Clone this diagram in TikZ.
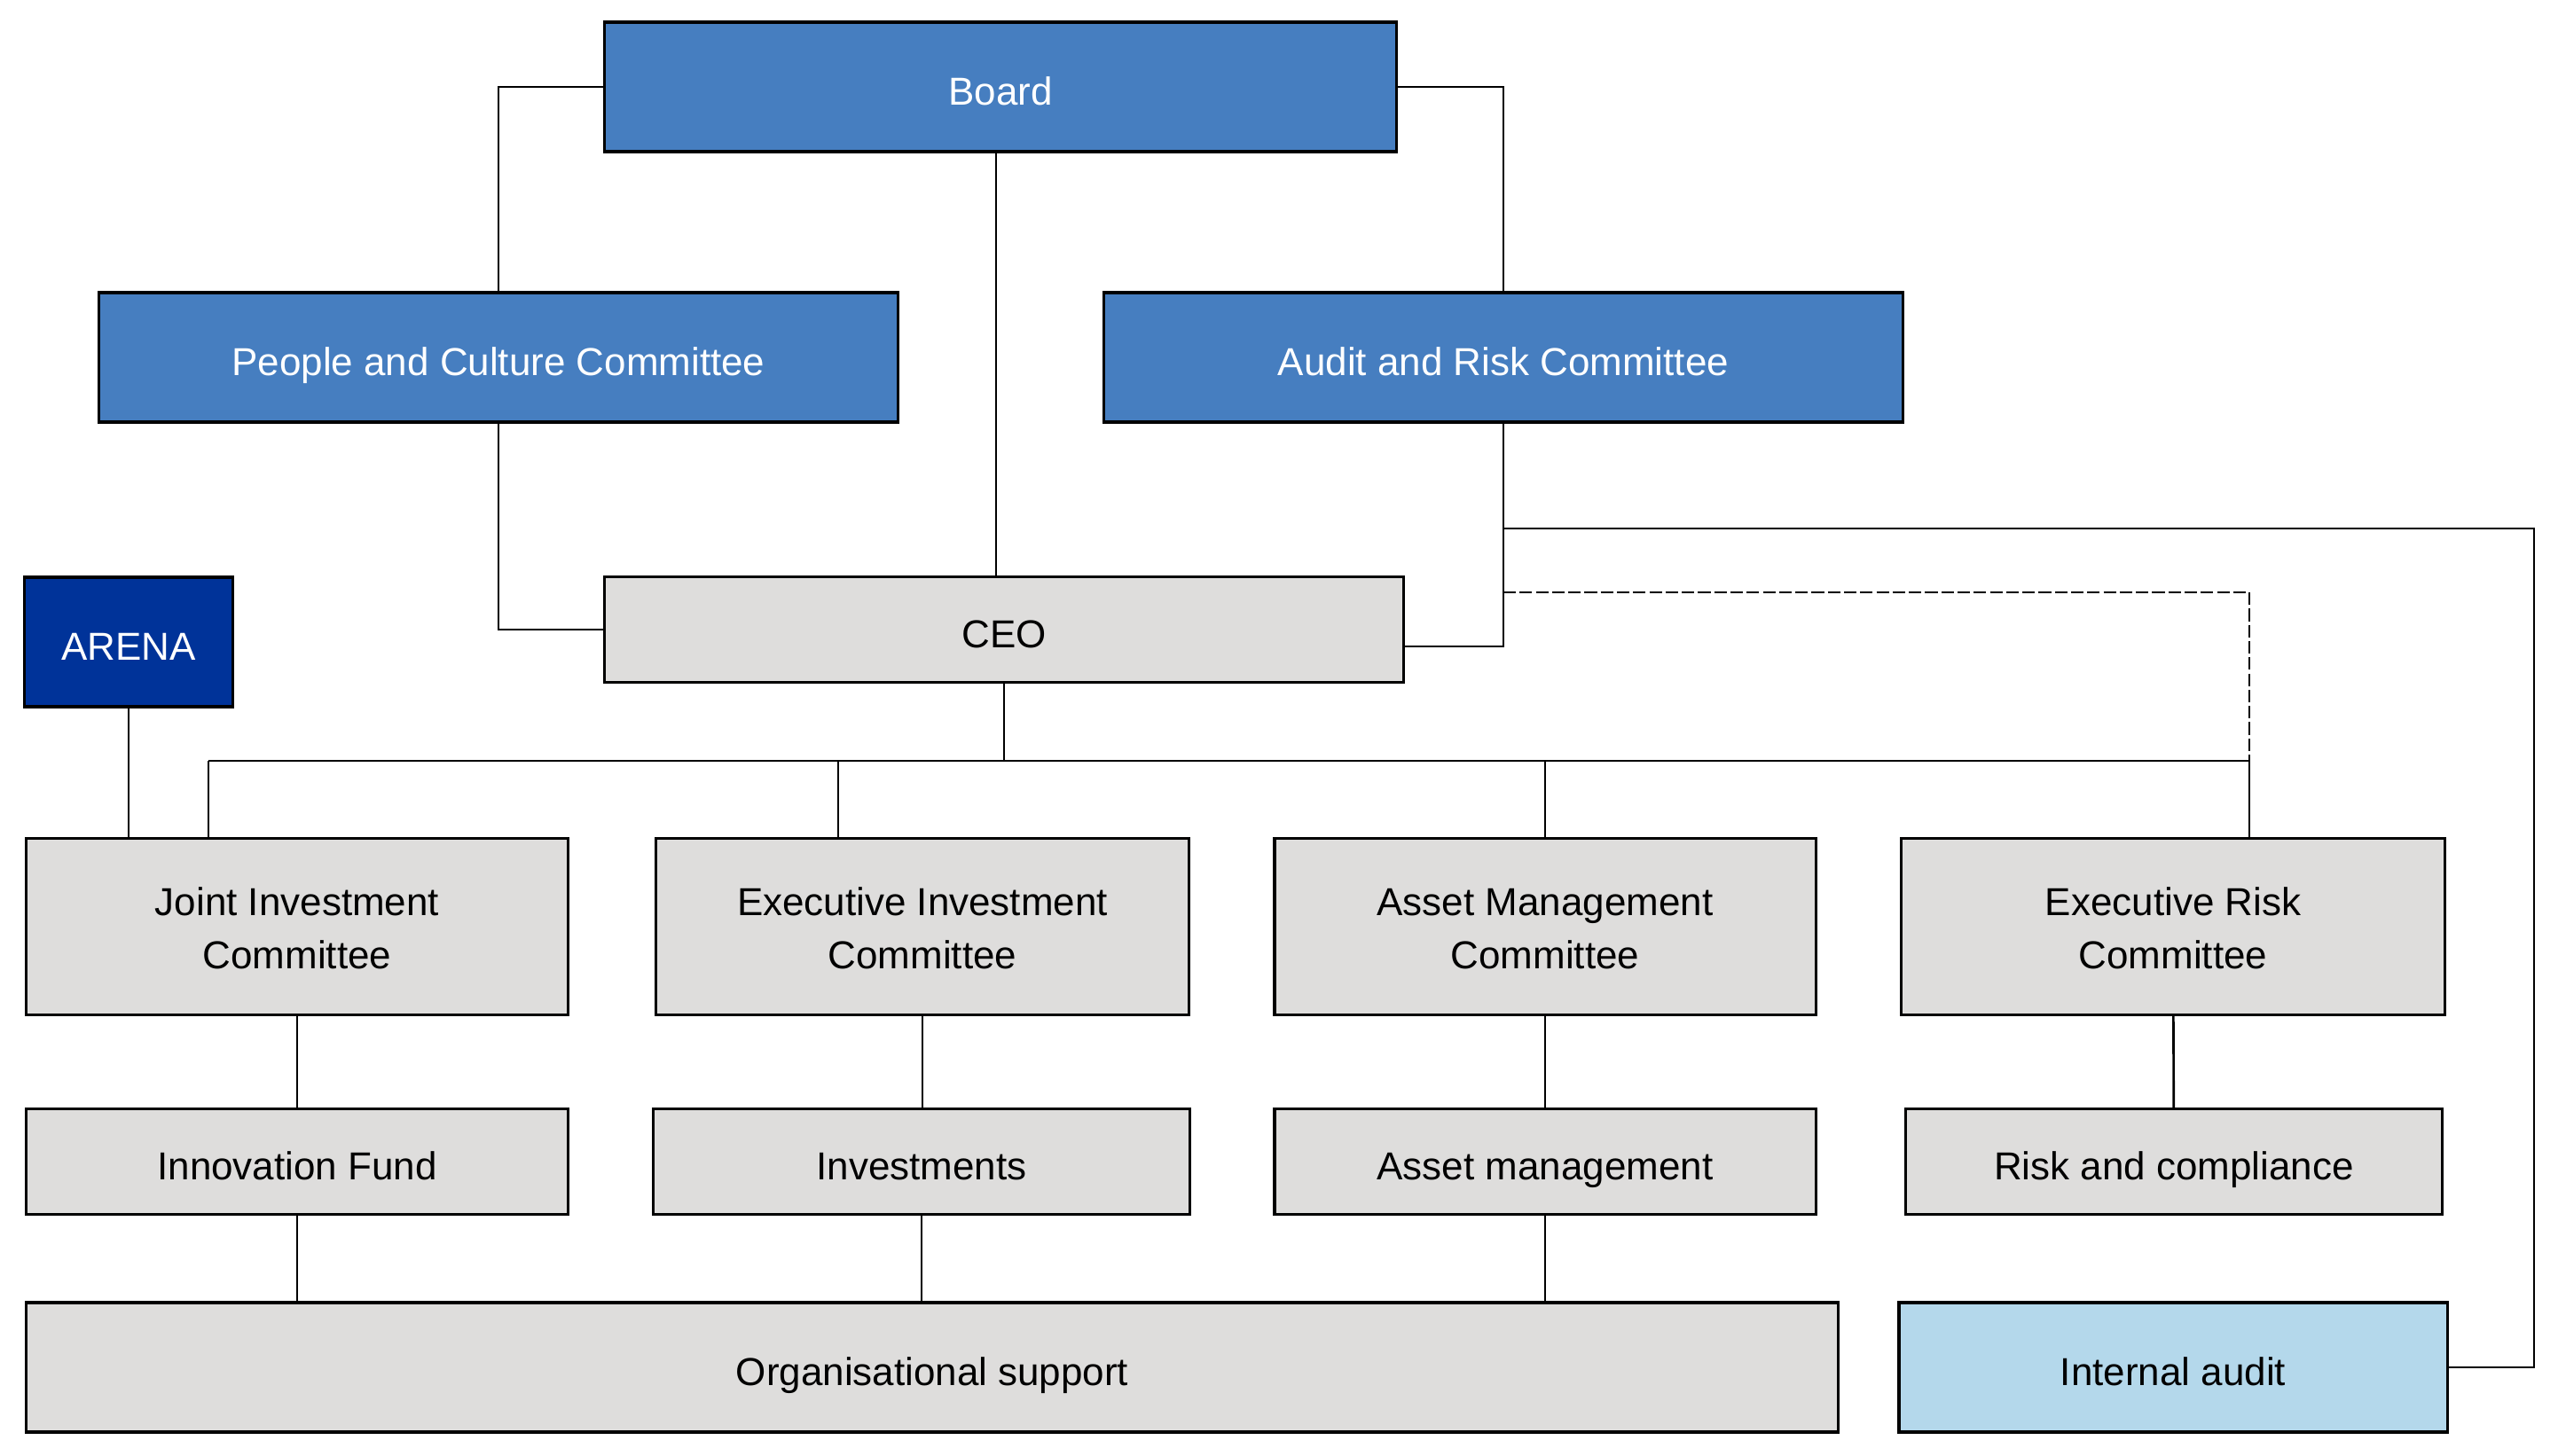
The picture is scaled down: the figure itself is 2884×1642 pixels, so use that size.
\documentclass[tikz,border=0pt]{standalone}
\usepackage{fontspec}
\setmainfont{Liberation Sans}
\usepackage{tikz}
\usetikzlibrary{positioning}

\definecolor{boardblue}{RGB}{70,126,192}
\definecolor{arenablue}{RGB}{0,51,153}
\definecolor{unitgrey}{RGB}{222,221,220}
\definecolor{auditblue}{RGB}{180,216,235}

\begin{document}
\begin{tikzpicture}[
            x = 0.01cm, y = -0.01cm, % one unit = one pixel of the chart
            line width = 0.75pt, % connector style
            every text node part/.style={align=center}
        ]

        \tikzset{
            unit/.style = {draw = black, line width = 0.95pt, fill = unitgrey, inner sep = 0pt,
                font = \fontsize{12.5}{17}\selectfont},
            onerow/.style = {text height = 11.8pt, text depth = 0pt},
            tworow/.style = {unit, minimum height = 1.99cm, text height = 30pt, text depth = 3pt},
            board/.style = {unit, onerow, fill = boardblue, text = white},
            arena/.style = {unit, onerow, fill = arenablue, text = white},
            audit/.style = {unit, onerow, fill = auditblue}
        }

        \useasboundingbox (0,0) rectangle (2884,1642);

        \node[board, minimum width=8.92cm, minimum height=1.46cm] (Board) at (1128,98) {Board};
        \node[board, minimum width=9.01cm, minimum height=1.46cm] (PCC) at (562,403) {People and Culture Committee};
        \node[board, minimum width=9.00cm, minimum height=1.46cm] (ARC) at (1695,403) {Audit and Risk Committee};
        \node[unit, onerow, minimum width=9.00cm, minimum height=1.19cm] (CEO) at (1132,710) {CEO};
        \node[arena, minimum width=2.35cm, minimum height=1.46cm] (ARENA) at (145,724) {ARENA};

        \node[tworow, minimum width=6.11cm] (JIC) at (335,1045) {Joint Investment \\ Committee};
        \node[tworow, minimum width=6.01cm] (EIC) at (1040,1045) {Executive Investment \\ Committee};
        \node[tworow, minimum width=6.10cm] (AMC) at (1742,1045) {Asset Management \\ Committee};
        \node[tworow, minimum width=6.13cm] (ERC) at (2450,1045) {Executive Risk \\ Committee};

        \node[unit, onerow, minimum width=6.11cm, minimum height=1.19cm] (IF) at (335,1310) {Innovation Fund};
        \node[unit, onerow, minimum width=6.05cm, minimum height=1.19cm] (INV) at (1039,1310) {Investments};
        \node[unit, onerow, minimum width=6.10cm, minimum height=1.19cm] (AM) at (1742,1310) {Asset management};
        \node[unit, onerow, minimum width=6.05cm, minimum height=1.19cm] (RC) at (2451,1310) {Risk and compliance};

        \node[unit, onerow, minimum width=20.42cm, minimum height=1.46cm] (OS) at (1051,1542) {Organisational support};
        \node[audit, minimum width=6.18cm, minimum height=1.46cm] (IA) at (2450,1542) {Internal audit};

        \coordinate (bus) at (1133,858);
        \coordinate (rim) at (2857,596);
        \coordinate (dash) at (2536,668);

        % board and its committees
        \draw (Board.west) -| (PCC.north);
        \draw (Board.east) -| (ARC.north);
        \draw (1123,171) -- (1123,651);
        \draw (PCC.south) |- (CEO.west);
        \draw (ARC.south) |- (1582,729);
        \draw (IA.east) -| (rim) -- (rim -| ARC.south);
        \draw[dashed, dash pattern=on 4pt off 1.2pt] (ARC.south |- dash) -- (dash) -- (dash |- bus);

        % CEO and executive committees
        \draw (CEO.south) -- (CEO.south |- bus);
        \draw (235,858) -- (2536,858);
        \draw (235,858) -- (235,946);
        \draw (945,858) -- (945,946);
        \draw (AMC.north |- bus) -- (AMC.north);
        \draw (2536,858) -- (2536,946);
        \draw (ARENA.south) -- (ARENA.south |- JIC.north);

        % committees and their areas
        \path (JIC) edge (IF)
              (EIC.south) edge (EIC.south |- INV.north)
              (AMC) edge (AM)
              (ERC) edge (RC)
              (IF.south) edge (IF.south |- OS.north)
              (INV.south) edge (INV.south |- OS.north)
              (AM.south) edge (AM.south |- OS.north);

\end{tikzpicture}
\end{document}
